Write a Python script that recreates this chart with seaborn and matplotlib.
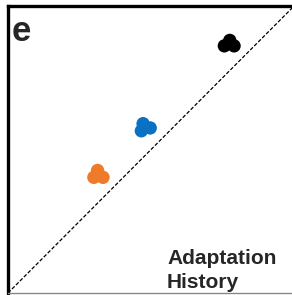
import pandas as pd
import numpy as np
import matplotlib.pyplot as plt
import seaborn as sns

# three replicate points for each group (axis units 0..1)
groups = ["orange", "orange", "orange", "blue", "blue", "blue", "black", "black", "black"]
x_vals = [0.313, 0.300, 0.332, 0.472, 0.466, 0.497, 0.775, 0.756, 0.790]
y_vals = [0.427, 0.403, 0.403, 0.590, 0.565, 0.575, 0.880, 0.861, 0.861]
colors = {"orange": "#EE7A2A", "blue": "#0A70C2", "black": "#000000"}

df = pd.DataFrame({"x": x_vals, "y": y_vals, "group": groups})

sns.set_style("white")
plt.rcParams['font.family'] = ['Liberation Sans', 'DejaVu Sans']

fig = plt.figure(figsize=(2.92, 2.95), dpi=100)
ax = fig.add_axes([0.0274, 0.0068, 0.98, 0.973])

ax.plot([0, 1], [0, 1], ls=(0, (3, 1.5)), color='black', lw=0.9, zorder=1)
sns.scatterplot(data=df, x='x', y='y', hue='group', palette=colors, s=92,
                edgecolor='none', legend=False, ax=ax, zorder=3)

ax.set_xlim(0, 1)
ax.set_ylim(0, 1)
ax.set_xticks([])
ax.set_yticks([])
ax.set_xlabel("")
ax.set_ylabel("")
for side in ['left', 'top']:
    ax.spines[side].set_linewidth(2.4)
    ax.spines[side].set_color('black')
ax.spines['bottom'].set_linewidth(1)
ax.spines['bottom'].set_color('#888888')
ax.spines['right'].set_visible(False)

ax.text(0.014, 0.878, "e", transform=ax.transAxes, fontsize=25, fontweight='bold',
        va='baseline', ha='left')
ax.text(0.556, 0.101, "Adaptation", transform=ax.transAxes, fontsize=15,
        fontweight='bold', va='baseline', ha='left')
ax.text(0.556, 0.0174, "History", transform=ax.transAxes, fontsize=15,
        fontweight='bold', va='baseline', ha='left')

fig.savefig("out.png", dpi=100)
